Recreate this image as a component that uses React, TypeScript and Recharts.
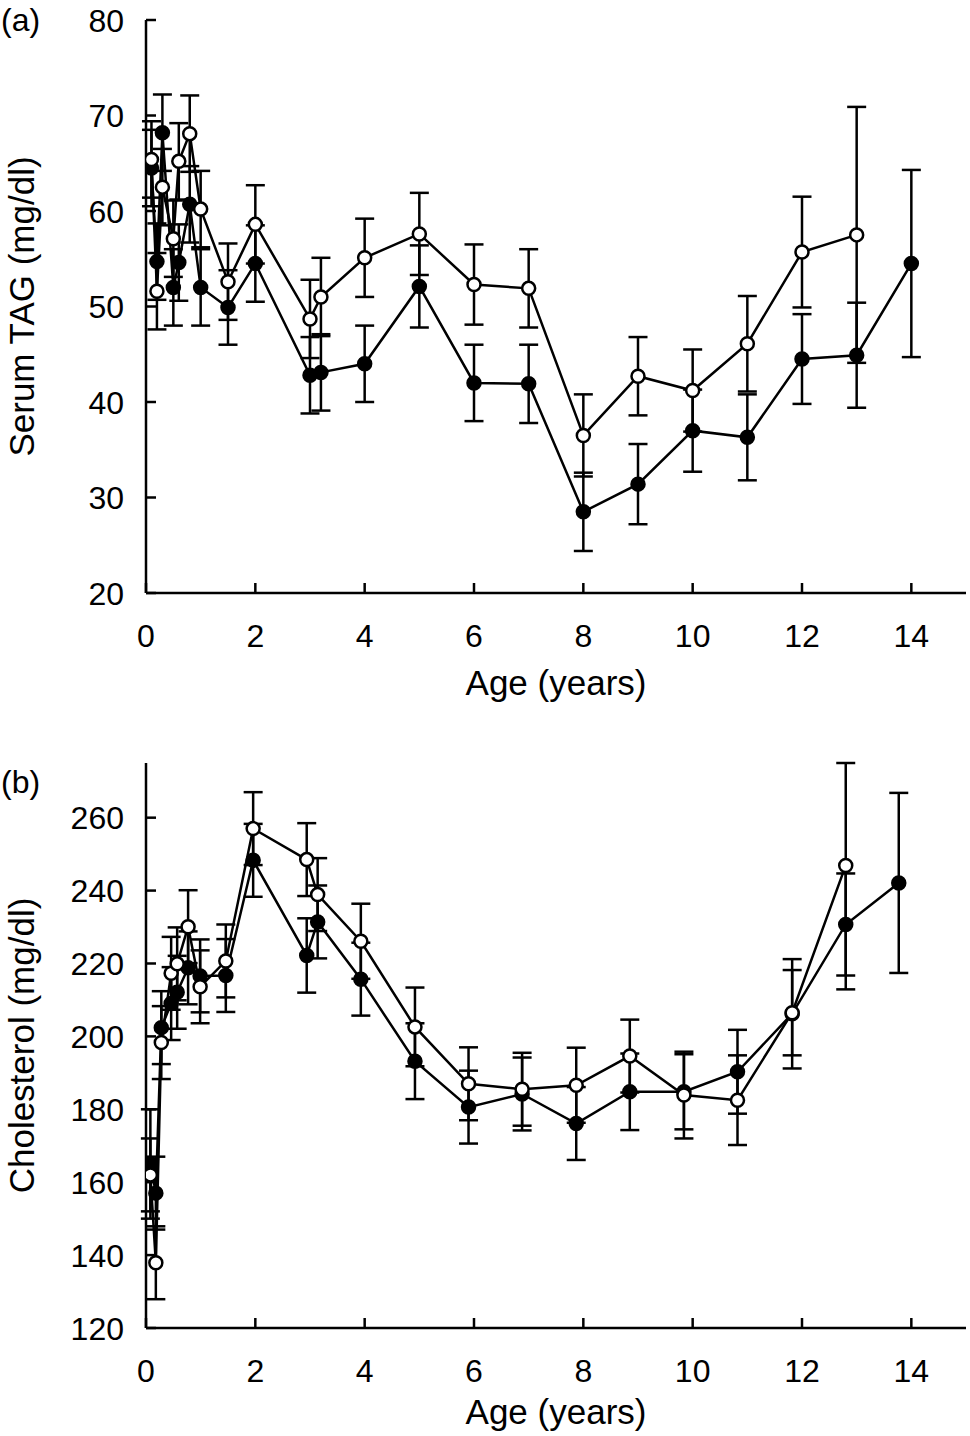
import React from 'react';
import { LineChart, Line, XAxis, YAxis, ErrorBar, Label } from 'recharts';

const FONT = '"Liberation Sans", Arial, Helvetica, sans-serif';
const FS = 32;
const TITLE_FS = 35;

// panel (a): serum TAG
const agesA = [0.1, 0.2, 0.3, 0.5, 0.6, 0.8, 1, 1.5, 2, 3, 3.2, 4, 5, 6, 7, 8, 9, 10, 11, 12, 13, 14];
const tagFilled = [64.5, 54.7, 68.2, 52.0, 54.6, 60.7, 52.0, 49.9, 54.5, 42.8, 43.1, 44.0, 52.1, 42.0, 41.9, 28.5, 31.4, 37.0, 36.3, 44.5, 44.9, 54.5];
const tagFilledErr = [4, 4, 4, 4, 4, 4, 4, 3.9, 4, 4, 4, 4, 4.3, 4, 4.1, 4.1, 4.2, 4.3, 4.5, 4.7, 5.5, 9.8];
const tagOpen = [65.4, 51.6, 62.5, 57.1, 65.2, 68.1, 60.2, 52.6, 58.6, 48.7, 51.0, 55.1, 57.6, 52.3, 51.9, 36.5, 42.7, 41.2, 46.1, 55.7, 57.5];
const tagOpenErr = [4, 4, 4, 4, 4, 4, 4, 4, 4.1, 4.1, 4.1, 4.1, 4.3, 4.2, 4.1, 4.3, 4.1, 4.3, 5, 5.8, 13.4];
const tagTicks = [20, 30, 40, 50, 60, 70, 80];

// panel (b): cholesterol
const agesB = [0.08, 0.18, 0.28, 0.46, 0.57, 0.77, 0.99, 1.46, 1.96, 2.94, 3.14, 3.93, 4.92, 5.9, 6.88, 7.87, 8.85, 9.84, 10.82, 11.82, 12.8, 13.77];
const cholFilled = [165, 157, 202.4, 209, 212.1, 218.8, 216.6, 216.7, 248.3, 222.2, 231.4, 215.7, 193.2, 180.6, 184.2, 176.1, 184.8, 184.8, 190.3, 206.2, 230.7, 242.1];
const cholFilledErr = [15, 10, 10, 10, 10, 10, 10, 10, 10, 10.2, 10, 10, 10.4, 10, 10, 10, 10.5, 10.3, 11.5, 15, 14, 24.7];
const cholOpen = [162, 137.9, 198.3, 217.3, 219.9, 230.1, 213.6, 220.7, 257, 248.5, 238.9, 226.1, 202.6, 187, 185.5, 186.6, 194.6, 183.9, 182.5, 206.5, 246.9];
const cholOpenErr = [10, 10, 10, 10, 10, 10, 10, 10, 10, 10, 10, 10.3, 10.8, 10, 10, 10.3, 10, 11.9, 12.3, 11.7, 34];
const cholTicks = [120, 140, 160, 180, 200, 220, 240, 260];

const ageTicks = [0, 2, 4, 6, 8, 10, 12, 14];

// error bars stop at the top of the plot frame, as in the figure
const toRows = (ages: number[], vals: number[], errs: number[], yMax: number) =>
  vals.map((v, i) => ({ age: ages[i], v, err: [errs[i], Math.min(errs[i], yMax - v)] }));

const XTick = (p: any) => (
  <g>
    <line x1={p.x} x2={p.x} y1={p.y} y2={p.y - 10} stroke="#000" strokeWidth={2.5} />
    <text x={p.x} y={p.y + 54} textAnchor="middle" fontSize={FS} fontFamily={FONT} fill="#000">
      {p.payload.value}
    </text>
  </g>
);

const YTick = (p: any) => (
  <g>
    <line x1={p.x} x2={p.x + 10} y1={p.y} y2={p.y} stroke="#000" strokeWidth={2.5} />
    <text x={p.x - 22} y={p.y + 11.5} textAnchor="end" fontSize={FS} fontFamily={FONT} fill="#000">
      {p.payload.value}
    </text>
  </g>
);

const dot = (filled: boolean) => (p: any) => {
  if (p.cy == null || p.cx == null) return <g key={p.key} />;
  return (
    <circle key={p.key} cx={p.cx} cy={p.cy} r={6.5} fill={filled ? '#000' : '#fff'} stroke="#000" strokeWidth={2.5} />
  );
};

const yTitle = (title: string, panel: string, panelY: number) => (props: any) => {
  const vb = props.viewBox;
  const cy = vb.y + vb.height / 2;
  return (
    <g>
      <text x={34} y={cy} transform={`rotate(-90, 34, ${cy})`} textAnchor="middle" fontSize={TITLE_FS} fontFamily={FONT} fill="#000">
        {title}
      </text>
      <text x={1} y={panelY} fontSize={FS} fontFamily={FONT} fill="#000">{panel}</text>
    </g>
  );
};

const xTitle = (dy: number) => (props: any) => {
  const vb = props.viewBox;
  return (
    <text x={vb.x + vb.width / 2} y={vb.y + dy} textAnchor="middle" fontSize={TITLE_FS} fontFamily={FONT} fill="#000">
      Age (years)
    </text>
  );
};

const Panel = ({ filledRows, openRows, yDomain, yTicks, title, panel, panelY, titleDy, height, margin }: any) => (
  <LineChart width={970} height={height} margin={margin}>
    <XAxis
      type="number"
      dataKey="age"
      domain={[0, 15]}
      ticks={ageTicks}
      height={100}
      tickSize={0}
      tickMargin={0}
      tickLine={false}
      tick={XTick}
      axisLine={{ stroke: '#000', strokeWidth: 2.5 }}
      allowDataOverflow
    >
      <Label content={xTitle(titleDy)} />
    </XAxis>
    <YAxis
      type="number"
      domain={yDomain}
      ticks={yTicks}
      width={146}
      tickSize={0}
      tickMargin={0}
      tickLine={false}
      tick={YTick}
      axisLine={{ stroke: '#000', strokeWidth: 2.5 }}
      allowDataOverflow
    >
      <Label content={yTitle(title, panel, panelY)} />
    </YAxis>
    <Line data={filledRows} dataKey="v" type="linear" stroke="#000" strokeWidth={2.5} dot={dot(true)} activeDot={false} isAnimationActive={false}>
      <ErrorBar dataKey="err" direction="y" width={9.5} strokeWidth={2.5} stroke="#000" />
    </Line>
    <Line data={openRows} dataKey="v" type="linear" stroke="#000" strokeWidth={2.5} dot={dot(false)} activeDot={false} isAnimationActive={false}>
      <ErrorBar dataKey="err" direction="y" width={9.5} strokeWidth={2.5} stroke="#000" />
    </Line>
  </LineChart>
);

export default function App() {
  return (
    <div style={{ position: 'absolute', left: 0, top: 0, width: 970, height: 1436, background: '#fff' }}>
      <Panel
        filledRows={toRows(agesA, tagFilled, tagFilledErr, 80)}
        openRows={toRows(agesA, tagOpen, tagOpenErr, 80)}
        yDomain={[20, 80]}
        yTicks={tagTicks}
        title="Serum TAG (mg/dl)"
        panel="(a)"
        panelY={31}
        titleDy={102}
        height={720}
        margin={{ top: 20, right: 4, bottom: 27, left: 0 }}
      />
      <Panel
        filledRows={toRows(agesB, cholFilled, cholFilledErr, 275)}
        openRows={toRows(agesB, cholOpen, cholOpenErr, 275)}
        yDomain={[120, 275]}
        yTicks={cholTicks}
        title="Cholesterol (mg/dl)"
        panel="(b)"
        panelY={73}
        titleDy={96}
        height={716}
        margin={{ top: 43, right: 4, bottom: 8, left: 0 }}
      />
    </div>
  );
}
